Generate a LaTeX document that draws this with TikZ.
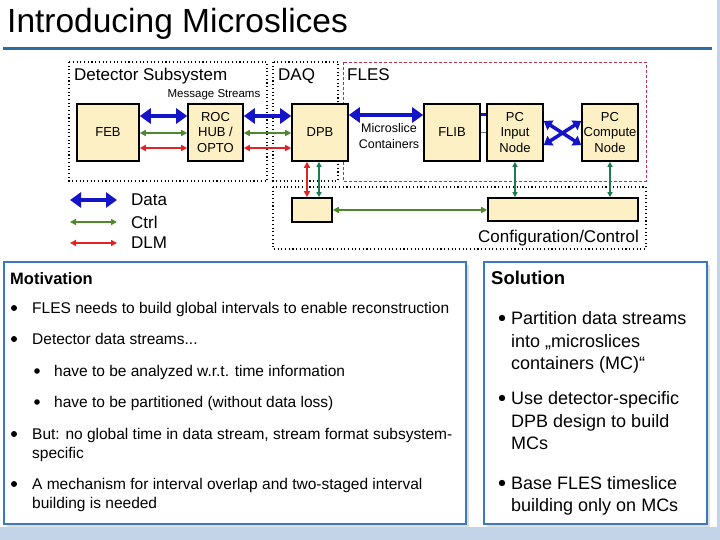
\documentclass[tikz,border=0pt]{standalone}
\usepackage{fontspec}
\setmainfont{Liberation Sans}
\usetikzlibrary{arrows.meta}
\definecolor{boxfill}{HTML}{FCF0C4}
\definecolor{datablue}{HTML}{1414C8}
\definecolor{ctrlgreen}{HTML}{4E8A2A}
\definecolor{tealgreen}{HTML}{1E7B50}
\definecolor{dlmred}{HTML}{E52222}
\definecolor{flesred}{HTML}{B83050}
\definecolor{rulebl}{HTML}{2E6DA4}
\definecolor{panelbl}{HTML}{3A78C0}
\definecolor{stripbl}{HTML}{C3D3E8}
\begin{document}
\begin{tikzpicture}[x=1pt,y=-1pt,
  blk/.style={draw=black,line width=1.6pt,fill=boxfill,inner sep=0pt,align=center,font=\fontsize{13}{15.5}\selectfont},
  zone/.style={draw=black,line width=1.1pt,dash pattern=on 1.1pt off 2.6pt},
  fleszone/.style={draw=flesred,line width=0.9pt,dash pattern=on 3pt off 2pt},
  dataarr/.style={draw=datablue,line width=4pt,{Triangle[length=11pt,width=15pt]}-{Triangle[length=11pt,width=15pt]}},
  crossarr/.style={draw=datablue,line width=3.5pt,{Triangle[length=8pt,width=11pt]}-{Triangle[length=8pt,width=11pt]}},
  ctrlarr/.style={draw=ctrlgreen,line width=1.4pt,{Triangle[length=6pt,width=6pt]}-{Triangle[length=6pt,width=6pt]}},
  tealarr/.style={draw=tealgreen,line width=1.3pt,{Triangle[length=5pt,width=5pt]}-{Triangle[length=5pt,width=5pt]}},
  dlmarr/.style={draw=dlmred,line width=1.4pt,{Triangle[length=6pt,width=6pt]}-{Triangle[length=6pt,width=6pt]}},
  lbl/.style={inner sep=0pt,font=\fontsize{17}{20}\selectfont},
  mtxt/.style={inner sep=0pt,anchor=base west,font=\fontsize{15.5}{19}\selectfont},
  stxt/.style={inner sep=0pt,anchor=base west,font=\fontsize{18}{22}\selectfont},
  panel/.style={draw=panelbl,line width=1.6pt,fill=white},
  shadow/.style={fill=black!13}
]
\useasboundingbox (0,0) rectangle (720,540);
\fill[white] (0,0) rectangle (720,540);
% side strips
\fill[stripbl] (0,527) rectangle (720,540);
\fill[stripbl] (717,0) rectangle (720,540);
% title
\node[inner sep=0pt,anchor=base west,font=\fontsize{33.5}{36}\selectfont] (title) at (7,33) {Introducing Microslices};
\draw[rulebl,line width=3pt] (3,49) -- (712,49);

% zones
\draw[zone] (69,62) rectangle (267,181);
\draw[zone] (273,62) rectangle (338,181);
\draw[fleszone] (343,62) rectangle (646,181);
\draw[zone] (273,187) rectangle (646,249);
\node[lbl,anchor=base west] (tdet) at (74,81) {Detector Subsystem};
\node[lbl,anchor=base west] (tdaq) at (278,81) {DAQ};
\node[lbl,anchor=base west] (tfles) at (347,81) {FLES};
\node[inner sep=0pt,anchor=base,font=\fontsize{11.5}{13}\selectfont] (tmsg) at (214,98) {Message Streams};

% boxes
\node[blk,minimum width=62pt,minimum height=57pt] (feb) at (108,132.5) {FEB};
\node[blk,minimum width=55pt,minimum height=57pt] (roc) at (215.5,132.5) {ROC\\HUB /\\OPTO};
\node[blk,minimum width=56pt,minimum height=57pt] (dpb) at (320,132.5) {DPB};
\node[blk,minimum width=56pt,minimum height=57pt] (flib) at (452,132.5) {FLIB};
\node[blk,minimum width=56pt,minimum height=57pt] (pcin) at (515,132.5) {PC\\Input\\Node};
\node[blk,minimum width=56pt,minimum height=57pt] (pcc) at (610,132.5) {PC\\Compute\\Node};
\node[blk,minimum width=40pt,minimum height=24pt] (sbox) at (312,210) {};
\node[blk,minimum width=150pt,minimum height=23pt] (cbox) at (563,209.5) {};
\node[inner sep=0pt,align=center,font=\fontsize{12.5}{16}\selectfont] (tmc) at (389,136) {Microslice\\Containers};
\node[lbl,anchor=base east] (tcfg) at (639,243) {Configuration/Control};

% connectors
\coordinate (yD) at (0,116);
\coordinate (yC) at (0,133);
\coordinate (yL) at (0,148);
\coordinate (yF) at (0,115);
\coordinate (yG) at (0,132);
\coordinate (yX1) at (0,121);
\coordinate (yX2) at (0,145);
\coordinate (xR) at (307,0);
\coordinate (xG) at (319,0);
\draw[dataarr] (feb.east |- yD) -- (roc.west |- yD);
\draw[ctrlarr] (feb.east |- yC) -- (roc.west |- yC);
\draw[dlmarr] (feb.east |- yL) -- (roc.west |- yL);
\draw[dataarr] (roc.east |- yD) -- (dpb.west |- yD);
\draw[ctrlarr] (roc.east |- yC) -- (dpb.west |- yC);
\draw[dlmarr] (roc.east |- yL) -- (dpb.west |- yL);
\draw[dataarr] (dpb.east |- yF) -- (flib.west |- yF);
\draw[datablue,line width=3pt] (flib.east |- yF) -- (pcin.west |- yF);
\draw[black!55,line width=0.7pt] (flib.east |- yG) -- (pcin.west |- yG);
\draw[crossarr] (pcin.east |- yX1) -- (pcc.west |- yX2);
\draw[crossarr] (pcin.east |- yX2) -- (pcc.west |- yX1);
\draw[dlmarr] (dpb.south -| xR) -- (sbox.north -| xR);
\draw[tealarr] (dpb.south -| xG) -- (sbox.north -| xG);
\draw[tealarr] (pcin.south) -- (cbox.north -| pcin.south);
\draw[tealarr] (pcc.south) -- (cbox.north -| pcc.south);
\draw[ctrlarr] (sbox.east) -- (cbox.west |- sbox.east);

% legend
\coordinate (la1) at (70,200); \coordinate (lb1) at (117,200);
\coordinate (la2) at (70,222); \coordinate (lb2) at (117,222);
\coordinate (la3) at (70,243); \coordinate (lb3) at (117,243);
\draw[dataarr] (la1) -- (lb1);
\draw[ctrlarr] (la2) -- (lb2);
\draw[dlmarr] (la3) -- (lb3);
\node[lbl,anchor=west] (ldata) at (131,200) {Data};
\node[lbl,anchor=west] (lctrl) at (131,222) {Ctrl};
\node[lbl,anchor=west] (ldlm) at (131,243) {DLM};

% motivation panel
\fill[shadow] (7,265) rectangle (469,527);
\draw[panel] (4,262) rectangle (466,524);
\node[inner sep=0pt,anchor=base west,font=\fontsize{16.5}{19}\bfseries\selectfont] (tmot) at (10,284) {Motivation};
\fill (14,308) circle (3pt);
\node[mtxt] (m1) at (32,313) {FLES needs to build global intervals to enable reconstruction};
\fill (14,339) circle (3pt);
\node[mtxt] (m2) at (32,344) {Detector data streams...};
\fill (37,371) circle (2.8pt);
\node[mtxt] (m3) at (54,376) {have to be analyzed w.r.t. time information};
\fill (37,402) circle (2.8pt);
\node[mtxt] (m4) at (54,407) {have to be partitioned (without data loss)};
\fill (14,434) circle (3pt);
\node[mtxt] (m5a) at (32,439) {But: no global time in data stream, stream format subsystem-};
\node[mtxt] (m5b) at (32,458) {specific};
\fill (14,484) circle (3pt);
\node[mtxt] (m6a) at (32,489) {A mechanism for interval overlap and two-staged interval};
\node[mtxt] (m6b) at (32,508) {building is needed};

% solution panel
\fill[shadow] (487,265) rectangle (710,527);
\draw[panel] (484,262) rectangle (707,524);
\node[inner sep=0pt,anchor=base west,font=\fontsize{18.5}{21}\bfseries\selectfont] (tsol) at (491,284) {Solution};
\fill (502,318) circle (3.2pt);
\node[stxt] (s1a) at (511,324) {Partition data streams};
\node[stxt] (s1b) at (511,347) {into „microslices};
\node[stxt] (s1c) at (511,369) {containers (MC)“};
\fill (502,398) circle (3.2pt);
\node[stxt] (s2a) at (511,404) {Use detector-specific};
\node[stxt] (s2b) at (511,427) {DPB design to build};
\node[stxt] (s2c) at (511,449) {MCs};
\fill (502,483) circle (3.2pt);
\node[stxt] (s3a) at (511,489) {Base FLES timeslice};
\node[stxt] (s3b) at (511,511) {building only on MCs};
\end{tikzpicture}
\end{document}
